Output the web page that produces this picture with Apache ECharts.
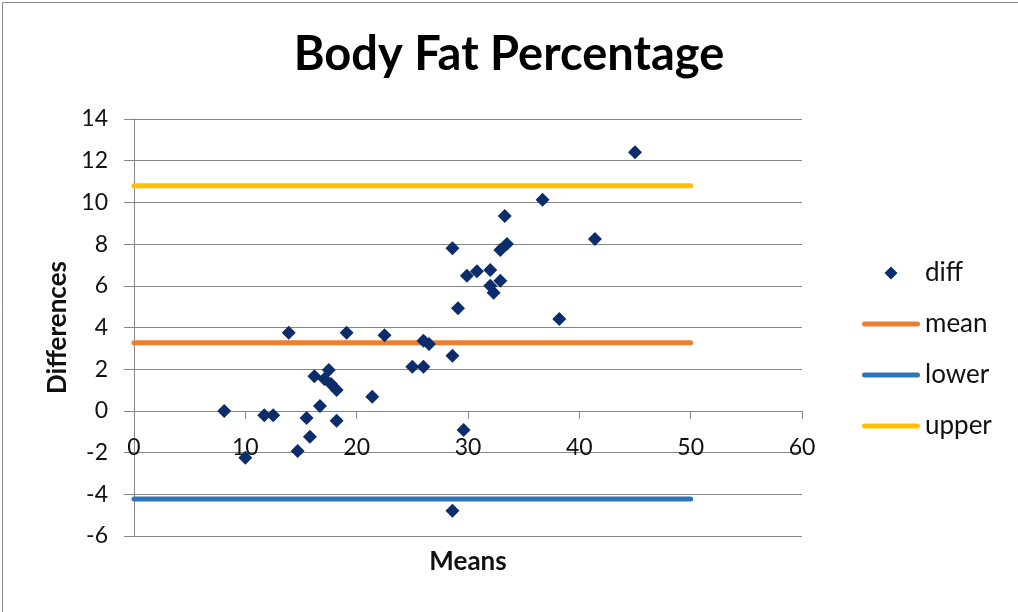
<!DOCTYPE html>
<html>
<head>
<meta charset="utf-8">
<script src="https://cdn.jsdelivr.net/npm/echarts@6/dist/echarts.min.js"></script>
<style>
html,body{margin:0;padding:0;background:#fff;}
#chart{width:1018px;height:612px;}
</style>
</head>
<body>
<div id="chart"></div>
<script>
// Data
var meansX = [8.1, 10.0, 11.7, 12.5, 13.9, 14.7, 15.5, 15.8, 16.2, 16.7,
              17.1, 17.5, 17.7, 18.2, 18.2, 19.1, 21.4, 22.5, 25.0, 26.0,
              26.0, 26.5, 28.6, 28.6, 29.1, 29.6, 28.6, 29.9, 30.8, 32.0,
              32.0, 32.9, 32.3, 32.9, 33.5, 33.3, 36.7, 41.4, 38.2, 45.0];
var diffsY = [0.0, -2.25, -0.21, -0.21, 3.75, -1.92, -0.34, -1.24, 1.66, 0.24,
              1.53, 1.96, 1.29, 1.0, -0.47, 3.75, 0.68, 3.63, 2.12, 2.12,
              3.37, 3.21, 2.65, -4.79, 4.92, -0.92, 7.8, 6.48, 6.7, 6.76,
              6.0, 6.24, 5.67, 7.72, 8.0, 9.35, 10.13, 8.24, 4.41, 12.4];
var lineX = [0, 50];
var meanVal = 3.27;
var lowerVal = -4.22;
var upperVal = 10.8;
var seriesNames = ['diff', 'mean', 'lower', 'upper'];
var yMin = -6, yMax = 14, yStep = 2;
var xMin = 0, xMax = 60, xStep = 10;

var scatterData = meansX.map(function (x, i) { return [x, diffsY[i]]; });
function hline(v) { return lineX.map(function (x) { return [x, v]; }); }

var gridTop = 119, gridBottom = 76, H = 612;
var plotH = H - gridTop - gridBottom;
// move the x axis up to y = 0 (Excel-style crossing)
var xAxisOffset = -((0 - yMin) / (yMax - yMin)) * plotH;

var font = 'Lato, "Open Sans", sans-serif';
var lineIcon = 'path://M2.5,0 L55.5,0 A2.5,2.5 0 0 1 55.5,5 L2.5,5 A2.5,2.5 0 0 1 2.5,0 Z';
var diamondIcon = 'path://M0,0 L0.01,0 L0,0.01 Z M58,14 L57.99,14 L58,13.99 Z M22.5,7 L29,0.5 L35.5,7 L29,13.5 Z';
var chart = echarts.init(document.getElementById('chart'));
chart.setOption({
  backgroundColor: '#fff',
  animation: false,
  graphic: [{
    type: 'rect', left: 0, top: 0, z: -1,
    shape: { x: 0.5, y: 0.5, width: 1016, height: 610 },
    style: { fill: 'none', stroke: '#8a8a8a', lineWidth: 1 }
  }],
  title: {
    text: 'Body Fat Percentage',
    left: 'center', top: 26,
    textStyle: { fontFamily: font, fontWeight: 'bold', fontSize: 47, color: '#000' }
  },
  legend: {
    orient: 'vertical',
    left: 857, top: 255,
    itemWidth: 58, itemHeight: 14, itemGap: 25,
    symbolKeepAspect: true,
    data: [
      { name: seriesNames[0], icon: diamondIcon },
      { name: seriesNames[1], icon: lineIcon },
      { name: seriesNames[2], icon: lineIcon },
      { name: seriesNames[3], icon: lineIcon }
    ],
    textStyle: { fontFamily: font, fontSize: 26, lineHeight: 26, color: '#111' }
  },
  grid: { left: 134, right: 216, top: gridTop, bottom: gridBottom, outerBoundsMode: 'none', containLabel: false },
  xAxis: {
    type: 'value', min: xMin, max: xMax, interval: xStep,
    position: 'bottom', offset: xAxisOffset,
    name: 'Means', nameLocation: 'middle', nameGap: 138,
    nameTextStyle: { fontFamily: font, fontWeight: 'bold', fontSize: 26, color: '#111' },
    axisLine: { onZero: false, lineStyle: { color: '#868686', width: 1 } },
    axisTick: { show: true, length: 8, lineStyle: { color: '#868686' } },
    axisLabel: { margin: 25, fontFamily: font, fontSize: 23, color: '#111' },
    splitLine: { show: false }
  },
  yAxis: {
    type: 'value', min: yMin, max: yMax, interval: yStep,
    name: 'Differences', nameLocation: 'middle', nameGap: 63,
    nameTextStyle: { fontFamily: font, fontWeight: 'bold', fontSize: 26, color: '#111' },
    axisLine: { show: true, onZero: false, lineStyle: { color: '#868686', width: 1 } },
    axisTick: { show: true, length: 10, lineStyle: { color: '#868686' } },
    axisLabel: { margin: 26, fontFamily: font, fontSize: 23, color: '#111' },
    splitLine: { show: true, lineStyle: { color: '#868686', width: 1 } }
  },
  series: [
    {
      name: 'diff', type: 'scatter', data: scatterData,
      symbol: 'diamond', symbolSize: 14, z: 5,
      itemStyle: { color: '#0c2d6b', opacity: 1 }
    },
    {
      name: 'mean', type: 'line', data: hline(meanVal), symbol: 'none',
      lineStyle: { color: '#ED7D31', width: 5, cap: 'round' },
      itemStyle: { color: '#ED7D31' }
    },
    {
      name: 'lower', type: 'line', data: hline(lowerVal), symbol: 'none',
      lineStyle: { color: '#2E75B6', width: 5, cap: 'round' },
      itemStyle: { color: '#2E75B6' }
    },
    {
      name: 'upper', type: 'line', data: hline(upperVal), symbol: 'none',
      lineStyle: { color: '#FFC000', width: 5, cap: 'round' },
      itemStyle: { color: '#FFC000' }
    }
  ]
});
</script>
</body>
</html>
